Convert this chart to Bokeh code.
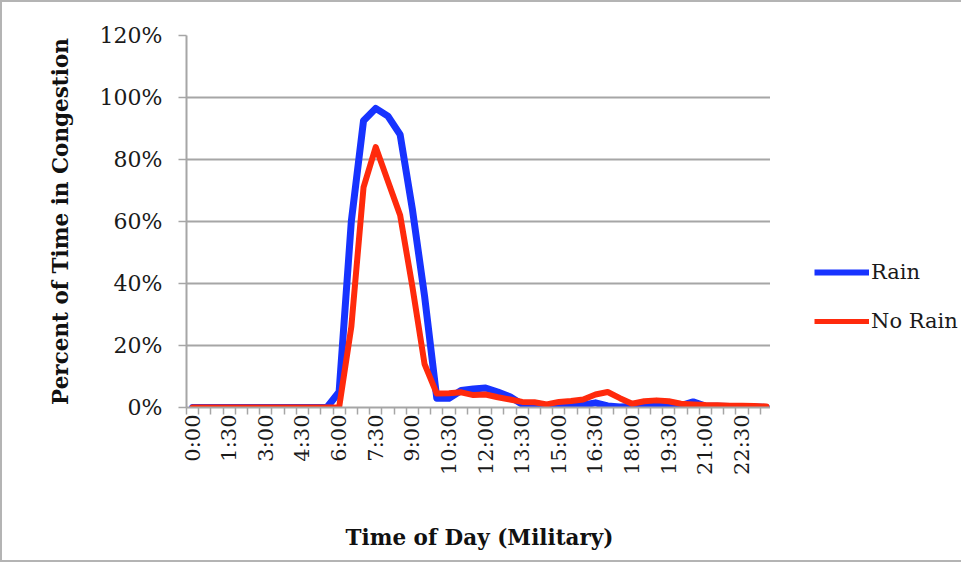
import math
from bokeh.plotting import figure
from bokeh.layouts import row
from bokeh.models import (ColumnDataSource, FixedTicker, PrintfTickFormatter,
                          Legend, LegendItem, Range1d)
from bokeh.embed import file_html
from bokeh.resources import INLINE

# ---- data -------------------------------------------------------------
times = ["0:00", "0:30", "1:00", "1:30", "2:00", "2:30", "3:00", "3:30",
         "4:00", "4:30", "5:00", "5:30", "6:00", "6:30", "7:00", "7:30",
         "8:00", "8:30", "9:00", "9:30", "10:00", "10:30", "11:00", "11:30",
         "12:00", "12:30", "13:00", "13:30", "14:00", "14:30", "15:00", "15:30",
         "16:00", "16:30", "17:00", "17:30", "18:00", "18:30", "19:00", "19:30",
         "20:00", "20:30", "21:00", "21:30", "22:00", "22:30", "23:00", "23:30"]

rain = [0, 0, 0, 0, 0, 0, 0, 0,
        0, 0, 0, 0, 5, 60, 92.5, 96.5,
        94, 88, 64, 36, 3, 3, 5.5, 6,
        6.3, 5, 3.5, 1, 0.5, 0.5, 0.3, 0.5,
        0.8, 1.5, 0.5, 0.2, 0.3, 1, 1.2, 1,
        0.6, 1.8, 0.5, 0.4, 0.3, 0.3, 0.2, 0]

no_rain = [0, 0, 0, 0, 0, 0, 0, 0,
           0, 0, 0, 0, 0, 26, 71, 84,
           73, 62, 39, 14, 4.5, 4.6, 4.9, 4,
           4.2, 3.3, 2.6, 1.8, 1.7, 1.0, 1.8, 2.1,
           2.6, 4.2, 5, 3, 1.2, 2, 2.3, 2,
           1.2, 1, 0.8, 0.7, 0.6, 0.6, 0.5, 0.3]

shown_labels = ["0:00", "1:30", "3:00", "4:30", "6:00", "7:30", "9:00", "10:30",
                "12:00", "13:30", "15:00", "16:30", "18:00", "19:30", "21:00", "22:30"]

y_ticks = [0, 20, 40, 60, 80, 100, 120]

series_names = ["Rain", "No Rain"]
series_colors = ["#1733FF", "#FF2A0C"]

# ---- figure -----------------------------------------------------------
idx = list(range(len(times)))
src = ColumnDataSource(dict(x=idx, time=times, rain=rain, no_rain=no_rain))

SERIF = "DejaVu Serif"
GRAY = "#a6a6a6"
BORDER = "2px solid #b4b4b4"
H = 562

p = figure(width=770, height=H, output_backend="svg", toolbar_location=None,
           x_range=Range1d(-0.5, len(times) - 0.5), y_range=Range1d(0, 120),
           min_border_left=184, min_border_right=0, min_border_top=33,
           min_border_bottom=H - 405)
p.styles = {"border-left": BORDER, "border-top": BORDER, "border-bottom": BORDER}
p.outline_line_color = None
p.background_fill_color = "white"
p.border_fill_color = "white"

r1 = p.line(x="x", y="rain", source=src, line_color=series_colors[0], line_width=7,
            line_join="round", line_cap="round")
r2 = p.line(x="x", y="no_rain", source=src, line_color=series_colors[1], line_width=6,
            line_join="round", line_cap="round")

# x axis
major = [times.index(t) for t in shown_labels]
minor = [i - 0.5 for i in range(len(times) + 1)]
xa = p.xaxis[0]
xa.ticker = FixedTicker(ticks=major, minor_ticks=minor)
xa.major_label_overrides = {i: times[i] for i in major}
xa.major_label_orientation = math.pi / 2
xa.major_tick_line_color = None
xa.major_tick_out = 0
xa.major_tick_in = 0
xa.minor_tick_line_color = GRAY
xa.minor_tick_line_width = 1.5
xa.minor_tick_out = 7
xa.minor_tick_in = 0
xa.axis_line_color = GRAY
xa.axis_line_width = 2
xa.major_label_standoff = 0
xa.major_label_text_font = SERIF
xa.major_label_text_font_size = "21px"
xa.major_label_text_color = "#1a1a1a"
xa.axis_label = "Time of Day (Military)"
xa.axis_label_text_font = SERIF
xa.axis_label_text_font_style = "bold"
xa.axis_label_text_font_size = "21.5px"
xa.axis_label_text_color = "#111111"
xa.axis_label_standoff = 47

# y axis
ya = p.yaxis[0]
ya.ticker = FixedTicker(ticks=y_ticks)
ya.formatter = PrintfTickFormatter(format="%d%%")
ya.major_tick_line_color = GRAY
ya.major_tick_line_width = 1.5
ya.major_tick_out = 8
ya.major_tick_in = 0
ya.minor_tick_line_color = None
ya.axis_line_color = GRAY
ya.axis_line_width = 2
ya.major_label_standoff = 16
ya.major_label_text_font = SERIF
ya.major_label_text_font_size = "22px"
ya.major_label_text_color = "#1a1a1a"
ya.axis_label = "Percent of Time in Congestion"
ya.axis_label_text_font = SERIF
ya.axis_label_text_font_style = "bold"
ya.axis_label_text_font_size = "21.5px"
ya.axis_label_text_color = "#111111"
ya.axis_label_standoff = 24

p.xgrid.grid_line_color = None
p.ygrid.grid_line_color = GRAY
p.ygrid.grid_line_width = 2

# ---- legend panel (separate figure to the right of the chart) ----------
# Its ranges keep the series out of view, so only the legend keys show.
pl = figure(width=191, height=H, output_backend="svg", toolbar_location=None,
            x_axis_type=None, y_axis_type=None, min_border=0,
            x_range=Range1d(-0.5, len(times) - 0.5), y_range=Range1d(-20, -10))
pl.styles = {"border-top": BORDER, "border-bottom": BORDER}
pl.outline_line_color = None
pl.grid.visible = False
pl.background_fill_color = "white"
pl.border_fill_color = "white"
k1 = pl.line(x="x", y="rain", source=src, line_color=series_colors[0], line_width=6)
k2 = pl.line(x="x", y="no_rain", source=src, line_color=series_colors[1], line_width=5)

legend = Legend(items=[LegendItem(label=series_names[0], renderers=[k1]),
                       LegendItem(label=series_names[1], renderers=[k2])],
                location=(44, 74), orientation="vertical")
legend.border_line_color = None
legend.background_fill_alpha = 0
legend.padding = 0
legend.margin = 0
legend.glyph_width = 55
legend.glyph_height = 22
legend.label_height = 22
legend.spacing = 25
legend.label_standoff = 2
legend.label_text_font = SERIF
legend.label_text_font_size = "21px"
legend.label_text_color = "#1a1a1a"
pl.add_layout(legend, "center")

layout = row(p, pl, spacing=0)
open("out.html", "w").write(file_html(layout, INLINE))
